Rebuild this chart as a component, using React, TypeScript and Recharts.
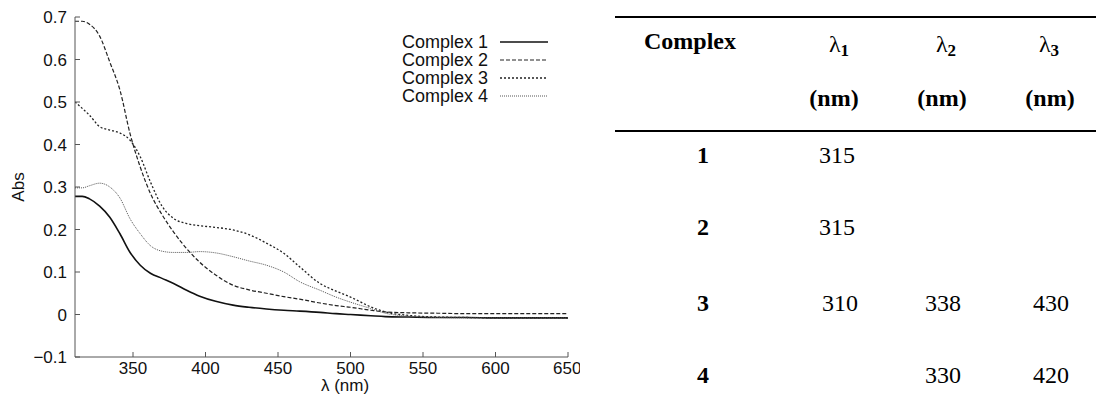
import { LineChart, Line, XAxis, YAxis, Label } from 'recharts';

// wavelengths (nm) shared by all four spectra
const wavelengths = [310, 315, 320, 327, 334, 341, 348, 355, 362, 370, 378, 387, 396, 407, 419, 430, 442, 454, 465, 479, 490, 500, 514, 524, 540, 560, 580, 600, 625, 650];

const complex1 = [0.278, 0.278, 0.272, 0.255, 0.229, 0.19, 0.146, 0.116, 0.097, 0.085, 0.073, 0.057, 0.043, 0.031, 0.022, 0.017, 0.013, 0.01, 0.008, 0.005, 0.002, 0.0, -0.003, -0.005, -0.006, -0.007, -0.007, -0.008, -0.008, -0.008];
const complex2 = [0.69, 0.69, 0.683, 0.655, 0.594, 0.528, 0.425, 0.347, 0.285, 0.235, 0.194, 0.155, 0.123, 0.093, 0.069, 0.058, 0.05, 0.042, 0.036, 0.027, 0.021, 0.017, 0.01, 0.006, 0.004, 0.003, 0.002, 0.002, 0.002, 0.002];
const complex3 = [0.5, 0.485, 0.469, 0.442, 0.434, 0.427, 0.41, 0.371, 0.312, 0.255, 0.226, 0.214, 0.209, 0.205, 0.199, 0.188, 0.168, 0.144, 0.112, 0.073, 0.055, 0.041, 0.018, 0.006, -0.002, -0.006, -0.007, -0.008, -0.008, -0.008];
const complex4 = [0.298, 0.298, 0.303, 0.309, 0.3, 0.274, 0.225, 0.19, 0.162, 0.149, 0.146, 0.146, 0.148, 0.145, 0.136, 0.126, 0.116, 0.1, 0.077, 0.057, 0.041, 0.029, 0.014, 0.003, -0.004, -0.007, -0.008, -0.008, -0.008, -0.008];

const xTicks = [350, 400, 450, 500, 550, 600, 650];
const yTicks = [-0.1, 0, 0.1, 0.2, 0.3, 0.4, 0.5, 0.6, 0.7];

const series = [
  { key: 'c1', name: 'Complex 1', color: '#111', width: 1.6, dash: undefined },
  { key: 'c2', name: 'Complex 2', color: '#222', width: 1.2, dash: '4 2' },
  { key: 'c3', name: 'Complex 3', color: '#222', width: 1.3, dash: '2 2' },
  { key: 'c4', name: 'Complex 4', color: '#555', width: 1, dash: '1 1' },
];

// table content
const tableRows = [
  { id: '1', l1: '315', l2: '', l3: '' },
  { id: '2', l1: '315', l2: '', l3: '' },
  { id: '3', l1: '310', l2: '338', l3: '430' },
  { id: '4', l1: '', l2: '330', l3: '420' },
];
const rowY = [155, 227, 303, 375];

const data = wavelengths.map((nm, i) => ({
  nm,
  c1: complex1[i],
  c2: complex2[i],
  c3: complex3[i],
  c4: complex4[i],
}));

const sans = '"Liberation Sans", Arial, sans-serif';
const serif = '"Liberation Serif", "Times New Roman", serif';

const LegendBox = () => (
  <svg width={180} height={80} style={{ position: 'absolute', left: 380, top: 30 }}>
    {series.map((s, i) => (
      <g key={s.key}>
        <text x={108} y={12 + i * 18} textAnchor="end" dominantBaseline="central" fontSize={18} fontFamily={sans} fill="#111">
          {s.name}
        </text>
        <line x1={120} x2={168} y1={12 + i * 18} y2={12 + i * 18} stroke={s.color} strokeWidth={s.width} strokeDasharray={s.dash} />
      </g>
    ))}
  </svg>
);

const Cell = ({ x, y, children, bold }: any) => (
  <div
    style={{
      position: 'absolute',
      left: x,
      top: y,
      transform: 'translate(-50%, -50%)',
      fontFamily: serif,
      fontSize: 24,
      fontWeight: bold ? 'bold' : 'normal',
      whiteSpace: 'nowrap',
      lineHeight: 1,
    }}
  >
    {children}
  </div>
);

const Lam = ({ n }: { n: string }) => (
  <span>
    λ<sub style={{ fontSize: 17, fontWeight: 'bold', verticalAlign: '-4px' }}>{n}</sub>
  </span>
);

export default function App() {
  return (
    <div style={{ position: 'absolute', left: 0, top: 0, width: 1096, height: 397, background: '#fff', overflow: 'hidden' }}>
      <LineChart width={580} height={397} data={data} margin={{ top: 17, right: 12, bottom: 0, left: 0 }}>
        <XAxis
          xAxisId="b"
          dataKey="nm"
          type="number"
          domain={[310, 650]}
          ticks={xTicks}
          height={40}
          tickSize={-5}
          tickMargin={10}
          stroke="#555"
          tick={{ fill: '#111', fontSize: 17, fontFamily: sans }}
          allowDataOverflow
        >
          <Label
            content={() => (
              <text x={345} y={391} textAnchor="middle" fontSize={17} fontFamily={sans} fill="#111">
                λ (nm)
              </text>
            )}
          />
        </XAxis>
        <XAxis
          xAxisId="t"
          orientation="top"
          dataKey="nm"
          type="number"
          domain={[310, 650]}
          ticks={xTicks}
          height={0}
          tickSize={-5}
          tick={false}
          stroke="#333"
          allowDataOverflow
        />
        <YAxis
          yAxisId="l"
          type="number"
          domain={[-0.1, 0.7]}
          ticks={yTicks}
          width={75}
          tickSize={-5}
          tickMargin={13}
          stroke="#555"
          tickFormatter={(v: number) => (v === 0 ? '0' : v < 0 ? '\u2212' + Math.abs(v).toFixed(1) : v.toFixed(1))}
          tick={{ fill: '#111', fontSize: 17, fontFamily: sans }}
          allowDataOverflow
        >
          <Label
            content={() => (
              <text x={24} y={187} transform="rotate(-90 24 187)" textAnchor="middle" fontSize={17} fontFamily={sans} fill="#111">
                Abs
              </text>
            )}
          />
        </YAxis>
        <YAxis
          yAxisId="r"
          orientation="right"
          type="number"
          domain={[-0.1, 0.7]}
          ticks={yTicks}
          width={0}
          tickSize={-5}
          tick={false}
          stroke="#333"
          allowDataOverflow
        />
        {series.map((s) => (
          <Line
            key={s.key}
            xAxisId="b"
            yAxisId="l"
            type="monotone"
            dataKey={s.key}
            name={s.name}
            stroke={s.color}
            strokeWidth={s.width}
            strokeDasharray={s.dash}
            dot={false}
            activeDot={false}
            isAnimationActive={false}
          />
        ))}
      </LineChart>
      <LegendBox />

      {/* table of absorption maxima */}
      <div style={{ position: 'absolute', left: 615, top: 16, width: 481, height: 2, background: '#000' }} />
      <div style={{ position: 'absolute', left: 615, top: 130, width: 481, height: 2, background: '#000' }} />
      <Cell x={690} y={41} bold>Complex</Cell>
      <Cell x={839} y={45}><Lam n="1" /></Cell>
      <Cell x={946} y={45}><Lam n="2" /></Cell>
      <Cell x={1049} y={45}><Lam n="3" /></Cell>
      <Cell x={834} y={98} bold>(nm)</Cell>
      <Cell x={942} y={98} bold>(nm)</Cell>
      <Cell x={1050} y={98} bold>(nm)</Cell>
      {tableRows.map((r, i) => (
        <div key={r.id}>
          <Cell x={703} y={rowY[i]} bold>{r.id}</Cell>
          {r.l1 && <Cell x={r.id === '3' ? 840 : 837} y={rowY[i]}>{r.l1}</Cell>}
          {r.l2 && <Cell x={943} y={rowY[i]}>{r.l2}</Cell>}
          {r.l3 && <Cell x={1051} y={rowY[i]}>{r.l3}</Cell>}
        </div>
      ))}
    </div>
  );
}
